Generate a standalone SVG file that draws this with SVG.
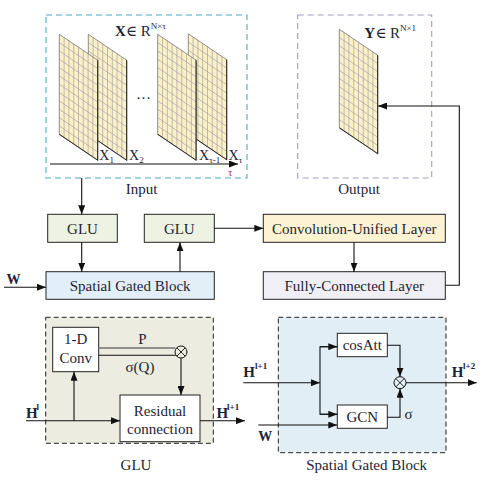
<svg xmlns="http://www.w3.org/2000/svg" xmlns:xlink="http://www.w3.org/1999/xlink" width="495" height="481" viewBox="0 0 495 481">
<style>
  text { font-family: "Liberation Serif", "DejaVu Serif", serif; fill: #1e2433; }
  .t15 { font-size: 15px; }
  .mid { text-anchor: middle; }
  .b { font-weight: bold; }
  .box { stroke: #222; stroke-width: 1; }
  .line { stroke: #111; stroke-width: 1.1; fill: none; }
  .arr { marker-end: url(#ah); }
  .sup { font-size: 9px; font-weight: bold; }
</style>
<defs>
  <marker id="ah" markerUnits="userSpaceOnUse" markerWidth="9" markerHeight="7" refX="9" refY="3.5" orient="auto">
    <path d="M0,0 L9,3.5 L0,7 z" fill="#111"/>
  </marker>
  <g id="panel">
    <rect x="0" y="0" width="38.4" height="100" fill="#fbf0c8"/>
    <path d="M4.8 0V100M9.6 0V100M14.4 0V100M19.2 0V100M24 0V100M28.8 0V100M33.6 0V100M0 8.33H38.4M0 16.67H38.4M0 25H38.4M0 33.33H38.4M0 41.67H38.4M0 50H38.4M0 58.33H38.4M0 66.67H38.4M0 75H38.4M0 83.33H38.4M0 91.67H38.4" stroke="#a4a4a4" stroke-width="0.6" fill="none"/>
    <path d="M38.4 0V100H0V0H38.4" stroke="#777" stroke-width="0.7" fill="none"/>
    <path d="M38.4 0V100H0" stroke="#222" stroke-width="1" fill="none"/>
  </g>
</defs>

<rect width="495" height="481" fill="#fff"/>

<!-- Input region -->
<g id="input">
  <rect x="46" y="15" width="201" height="163" fill="none" stroke="#4bacc6" stroke-width="1.1" stroke-dasharray="6,4"/>
  <text x="115" y="36" class="t15"><tspan class="b">X</tspan>∈ R<tspan dy="-7" style="font-size:9px">N×τ</tspan></text>
  <use xlink:href="#panel" transform="translate(88.3,34.3) skewY(34)"/>
  <use xlink:href="#panel" transform="translate(59.3,34.3) skewY(34)"/>
  <use xlink:href="#panel" transform="translate(188.3,33.8) skewY(34)"/>
  <use xlink:href="#panel" transform="translate(157.7,34.3) skewY(34)"/>
  <text x="143.5" y="99" class="t15 mid">…</text>
  <text x="99.3" y="160" style="font-size:14px">X<tspan dy="3" style="font-size:9px">1</tspan></text>
  <text x="129" y="160" style="font-size:14px">X<tspan dy="3" style="font-size:9px">2</tspan></text>
  <text x="199" y="160" style="font-size:14px">X<tspan dy="3" style="font-size:9px">τ-1</tspan></text>
  <text x="228.5" y="160" style="font-size:14px">X<tspan dy="3" style="font-size:9px">τ</tspan></text>
  <line x1="50" y1="164" x2="238" y2="164" class="line arr"/>
  <text x="228" y="175.5" style="font-size:11px;fill:#9b3b5a">τ</text>
  <text x="141.7" y="194" class="t15 mid">Input</text>
</g>

<!-- Output region -->
<g id="output">
  <rect x="297.7" y="15" width="134" height="163" fill="none" stroke="#a899c8" stroke-width="1.1" stroke-dasharray="6,4"/>
  <use xlink:href="#panel" transform="translate(339.3,29.3) skewY(34) scale(1,0.985)"/>
  <text x="364.3" y="38" class="t15"><tspan class="b">Y</tspan>∈ R<tspan dy="-7" style="font-size:9px">N×1</tspan></text>
  <text x="359" y="194" class="t15 mid">Output</text>
</g>

<!-- Middle row nodes -->
<g id="glu1">
  <rect x="47.7" y="214.3" width="69.6" height="28" fill="#eef2e2" class="box"/>
  <text x="82.5" y="233.5" class="t15 mid">GLU</text>
</g>
<g id="glu2">
  <rect x="144.3" y="214.3" width="70" height="28" fill="#eef2e2" class="box"/>
  <text x="179.3" y="233.5" class="t15 mid">GLU</text>
</g>
<g id="conv-unified">
  <rect x="263.3" y="214.3" width="182" height="28" fill="#fdf3d2" class="box"/>
  <text x="354.3" y="233.5" class="t15 mid">Convolution-Unified Layer</text>
</g>
<g id="sgb">
  <rect x="46" y="271.7" width="168.3" height="27.6" fill="#e3eff8" class="box"/>
  <text x="130.2" y="290.5" class="t15 mid">Spatial Gated Block</text>
</g>
<g id="fc">
  <rect x="263.3" y="271.7" width="182" height="27.6" fill="#f1eff6" class="box"/>
  <text x="354.3" y="290.5" class="t15 mid">Fully-Connected Layer</text>
</g>
<g id="w-label">
  <text x="6.5" y="284" class="b" style="font-size:14px">W</text>
</g>

<!-- Bottom-left: GLU detail -->
<g id="glu-detail">
  <rect x="45.7" y="317.3" width="167.6" height="126" fill="#ecede0" stroke="#222" stroke-width="1" stroke-dasharray="5,3"/>
  <rect x="52.7" y="327.3" width="46" height="44.4" fill="#fff" class="box"/>
  <text x="75.7" y="344" class="t15 mid">1-D</text>
  <text x="75.7" y="363" class="t15 mid">Conv</text>
  <rect x="120" y="395" width="80" height="46.7" fill="#fff" class="box"/>
  <text x="160" y="416" class="t15 mid">Residual</text>
  <text x="160" y="434" class="t15 mid">connection</text>
  <circle cx="181" cy="352" r="6" fill="none" stroke="#111" stroke-width="1"/>
  <path d="M176.8 347.8L185.2 356.2M185.2 347.8L176.8 356.2" stroke="#111" stroke-width="0.9"/>
  <text x="142.5" y="343.5" class="t15 mid">P</text>
  <text x="140" y="372" class="t15 mid">σ(Q)</text>
  <text x="216.5" y="418" class="t15 b">H</text>
  <text x="227" y="410" class="sup">l+1</text>
  <text x="26" y="418" class="t15 b">H</text>
  <text x="36.5" y="410" class="sup">l</text>
  <text x="136" y="470" class="t15 mid">GLU</text>
</g>

<!-- Bottom-right: Spatial Gated Block detail -->
<g id="sgb-detail">
  <rect x="278.3" y="317.3" width="167.7" height="135.4" fill="#e2eef6" stroke="#222" stroke-width="1" stroke-dasharray="5,3"/>
  <rect x="337.3" y="333.3" width="50" height="23.4" fill="#fff" class="box"/>
  <text x="362.3" y="350" class="t15 mid">cosAtt</text>
  <rect x="337.3" y="405" width="50" height="23.3" fill="#fff" class="box"/>
  <text x="362.3" y="421.8" class="t15 mid">GCN</text>
  <circle cx="400" cy="382.7" r="6" fill="none" stroke="#111" stroke-width="1"/>
  <path d="M395.8 378.5L404.2 386.9M404.2 378.5L395.8 386.9" stroke="#111" stroke-width="0.9"/>
  <text x="404.5" y="418.5" class="t15">σ</text>
  <text x="243.3" y="376.5" class="t15 b">H</text>
  <text x="255" y="368.5" class="sup">l+1</text>
  <text x="451.7" y="376.5" class="t15 b">H</text>
  <text x="463" y="368.5" class="sup">l+2</text>
  <text x="258.3" y="441" class="b" style="font-size:14px">W</text>
  <text x="366.7" y="470" class="t15 mid">Spatial Gated Block</text>
</g>

<!-- Connectors -->
<g id="connectors">
  <line x1="81.7" y1="178" x2="81.7" y2="214.3" class="line arr"/>
  <line x1="81.7" y1="242.3" x2="81.7" y2="271.7" class="line arr"/>
  <line x1="180" y1="271.7" x2="180" y2="242.3" class="line arr"/>
  <line x1="214.3" y1="228.3" x2="263.3" y2="228.3" class="line arr"/>
  <line x1="354" y1="242.3" x2="354" y2="271.7" class="line arr"/>
  <polyline points="445.3,285.3 459.3,285.3 459.3,106 378,106" class="line arr"/>
  <line x1="4" y1="287.3" x2="46" y2="287.3" class="line arr"/>
  <line x1="26" y1="420.7" x2="120" y2="420.7" class="line arr"/>
  <line x1="74" y1="420.7" x2="74" y2="371.7" class="line arr"/>
  <line x1="98.7" y1="348" x2="175.3" y2="348" stroke="#7a7a7a" stroke-width="1.8"/>
  <line x1="98.7" y1="348" x2="175.3" y2="348" stroke="#d0d0d0" stroke-width="0.5"/>
  <line x1="98.7" y1="355.3" x2="175.8" y2="355.3" class="line"/>
  <line x1="181" y1="358" x2="181" y2="395" class="line arr"/>
  <line x1="200" y1="420.7" x2="245" y2="420.7" class="line arr"/>
  <line x1="243.3" y1="382.7" x2="320" y2="382.7" class="line arr"/>
  <polyline points="337.3,346.7 320,346.7 320,414.3 337.3,414.3" class="line"/>
  <line x1="320" y1="346.7" x2="337.3" y2="346.7" class="line arr"/>
  <line x1="320" y1="414.3" x2="337.3" y2="414.3" class="line arr"/>
  <line x1="258.3" y1="425" x2="337.3" y2="425" class="line arr"/>
  <polyline points="387.3,345.3 400,345.3 400,376.7" class="line arr"/>
  <polyline points="387.3,417.3 400,417.3 400,388.7" class="line arr"/>
  <line x1="406" y1="382.7" x2="476.7" y2="382.7" class="line arr"/>
</g>
</svg>
